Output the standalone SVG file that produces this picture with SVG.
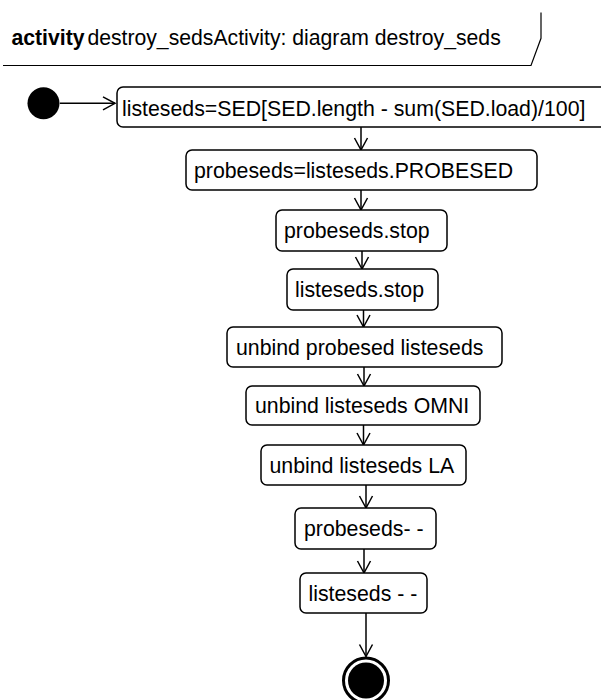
<svg xmlns="http://www.w3.org/2000/svg" width="601" height="700" viewBox="0 0 601 700">
<style>
.node rect{fill:#fff;stroke:#000;stroke-width:1.5}
.node text{font-family:"Liberation Sans",Arial,sans-serif;font-size:21.3px;fill:#000}
.edge{stroke:#000;stroke-width:1.5;fill:none;marker-end:url(#arr)}
.hdr{font-family:"Liberation Sans",Arial,sans-serif;font-size:21.2px;fill:#000}
</style>
<defs>
<marker id="arr" markerUnits="userSpaceOnUse" markerWidth="20" markerHeight="20" refX="0" refY="0" orient="auto" overflow="visible">
<path d="M-12,-6.5 L0,0 L-12,6.5" fill="none" stroke="#000" stroke-width="1.5"/>
</marker>
</defs>
<rect width="601" height="700" fill="#fff"/>
<g id="frame">
<path d="M3,65.5 L531,65.5 L541,38.3 L541,12.5" fill="none" stroke="#000" stroke-width="1.2"/>
<text x="11.5" y="45" class="hdr" font-weight="bold" font-size="19.5px">activity</text>
<text x="87.4" y="45" class="hdr">destroy_sedsActivity: diagram destroy_seds</text>
</g>
<g id="edges">
<line class="edge" x1="60" y1="103.3" x2="115" y2="103.3"/>
<line class="edge" x1="361" y1="127" x2="361" y2="150"/>
<line class="edge" x1="361" y1="190" x2="361" y2="210"/>
<line class="edge" x1="362" y1="251" x2="362" y2="269"/>
<line class="edge" x1="363.5" y1="310" x2="363.5" y2="327"/>
<line class="edge" x1="364" y1="367" x2="364" y2="386"/>
<line class="edge" x1="363.5" y1="425" x2="363.5" y2="445"/>
<line class="edge" x1="366" y1="485" x2="366" y2="508"/>
<line class="edge" x1="364" y1="549" x2="364" y2="573"/>
<line class="edge" x1="366" y1="613" x2="366" y2="656.5"/>
</g>
<g id="initial"><circle cx="43.5" cy="103.3" r="16" fill="#000"/></g>
<g id="n1" class="node"><rect x="117" y="87" width="490" height="40" rx="6"/><text x="122" y="115.5">listeseds=SED[SED.length - sum(SED.load)/100]</text></g>
<g id="n2" class="node"><rect x="186" y="150" width="351" height="40" rx="6"/><text x="194" y="177.5">probeseds=listeseds.PROBESED</text></g>
<g id="n3" class="node"><rect x="276" y="210" width="171" height="41" rx="6"/><text x="284" y="238">probeseds.stop</text></g>
<g id="n4" class="node"><rect x="287" y="269" width="151" height="41" rx="6"/><text x="295" y="297">listeseds.stop</text></g>
<g id="n5" class="node"><rect x="227" y="327" width="275" height="40" rx="6"/><text x="236" y="354.5">unbind probesed listeseds</text></g>
<g id="n6" class="node"><rect x="246" y="386" width="234" height="39" rx="6"/><text x="255" y="413">unbind listeseds OMNI</text></g>
<g id="n7" class="node"><rect x="261" y="445" width="205" height="40" rx="6"/><text x="269.5" y="472.5">unbind listeseds LA</text></g>
<g id="n8" class="node"><rect x="295" y="508" width="141" height="41" rx="6"/><text x="304" y="536">probeseds- -</text></g>
<g id="n9" class="node"><rect x="300" y="573" width="127" height="40" rx="6"/><text x="308.5" y="600.5">listeseds - -</text></g>
<g id="final"><circle cx="366" cy="680.5" r="22.5" fill="#fff" stroke="#000" stroke-width="3"/><circle cx="366" cy="680.5" r="18" fill="#000"/></g>
</svg>
